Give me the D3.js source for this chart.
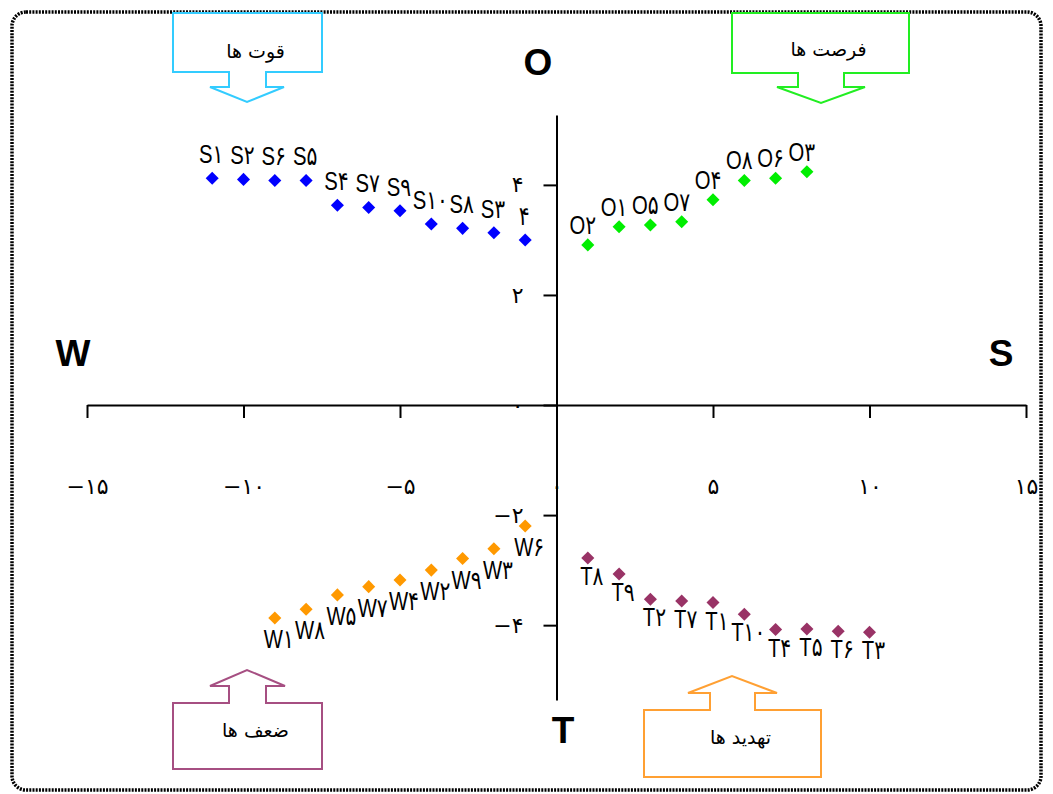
<!DOCTYPE html>
<html lang="fa">
<head>
<meta charset="utf-8" />
<title>SWOT</title>
<style>
  body { margin:0; background:#fff; }
  svg  { display:block; }
  .axis path, .axis line { stroke:#000; stroke-width:2px; }
  .axis text  { font-family:"DejaVu Sans",sans-serif; font-size:22px; fill:#000; }
  .ptLabel    { font-family:"Liberation Sans",Arial,"DejaVu Sans",sans-serif; font-size:26px; fill:#000; }
  .quad       { font-family:"Liberation Sans",Arial,sans-serif; font-size:37px; font-weight:bold; fill:#000; }
  .boxText    { font-family:"DejaVu Sans",sans-serif; font-size:19px; fill:#000; }
</style>
</head>
<body>
<svg id="chart" width="1053" height="794"></svg>

<script src="https://cdn.jsdelivr.net/npm/d3@7"></script>
<script>
/* ---------- DATA ---------- */
const sX = [-11, -10, -9, -8, -7, -6, -5, -4, -3, -2, -1];
const sY = [4.12, 4.10, 4.08, 4.08, 3.63, 3.59, 3.53, 3.29, 3.21, 3.13, 3.00];
const sLabels = ["S۱", "S۲", "S۶", "S۵", "S۴", "S۷", "S۹", "S۱۰", "S۸", "S۳", "۴"];

const oX = [1, 2, 3, 4, 5, 6, 7, 8];
const oY = [2.91, 3.24, 3.27, 3.33, 3.73, 4.08, 4.12, 4.24];
const oLabels = ["O۲", "O۱", "O۵", "O۷", "O۴", "O۸", "O۶", "O۳"];

const wX = [-9, -8, -7, -6, -5, -4, -3, -2, -1];
const wY = [-3.87, -3.71, -3.45, -3.30, -3.18, -3.00, -2.79, -2.61, -2.20];
const wLabels = ["W۱", "W۸", "W۵", "W۷", "W۴", "W۲", "W۹", "W۳", "W۶"];

const tX = [1, 2, 3, 4, 5, 6, 7, 8, 9, 10];
const tY = [-2.78, -3.07, -3.53, -3.56, -3.59, -3.80, -4.08, -4.07, -4.11, -4.13];
const tLabels = ["T۸", "T۹", "T۲", "T۷", "T۱", "T۱۰", "T۴", "T۵", "T۶", "T۳"];

const xTicks = [-15, -10, -5, 0, 5, 10, 15];
const yTicks = [-4, -2, 0, 2, 4];

/* ---------- LAYOUT ---------- */
const W = 1053, H = 794;
const svg = d3.select("#chart");

const x = d3.scaleLinear().domain([-15, 15]).range([87, 1026]);
const y = d3.scaleLinear().domain([-5.36, 5.27]).range([700, 115]);

const fa = v => d3.format("d")(v).replace(/-/g, "\u2212").replace(/\d/g, c => "۰۱۲۳۴۵۶۷۸۹"[c]);

// chart-area frame
svg.append("rect")
    .attr("x", 12).attr("y", 12).attr("width", W - 24).attr("height", H - 16)
    .attr("rx", 14).attr("fill", "none")
    .attr("stroke", "#000").attr("stroke-width", 3.5).attr("stroke-dasharray", "2 1.2");

/* ---------- AXES ---------- */
svg.append("g").attr("class", "axis")
    .attr("transform", `translate(0,${y(0)})`)
    .call(d3.axisBottom(x).tickValues(xTicks).tickSize(13).tickSizeOuter(0).tickPadding(60).tickFormat(fa));

svg.append("g").attr("class", "axis")
    .attr("transform", `translate(${x(0)},0)`)
    .call(d3.axisLeft(y).tickValues(yTicks).tickSize(13).tickSizeOuter(0).tickPadding(20).tickFormat(fa));

/* ---------- SERIES ---------- */
// dx/dy: label offset from its marker (labels sit above S/O, below W/T)
const series = [
  { xs: sX, ys: sY, labels: sLabels, color: "#0000ff", dx: -1, dy: -15 },
  { xs: oX, ys: oY, labels: oLabels, color: "#00ee00", dx: -5, dy: -11 },
  { xs: wX, ys: wY, labels: wLabels, color: "#ff9900", dx: 4,  dy: 30 },
  { xs: tX, ys: tY, labels: tLabels, color: "#993366", dx: 4,  dy: 27 }
];

const diamond = d3.symbol(d3.symbolSquare, 85);

series.forEach(s => {
  const pts = s.xs.map((v, i) => ({ x: v, y: s.ys[i], label: s.labels[i] }));
  const g = svg.append("g");

  g.selectAll("path")
    .data(pts)
    .join("path")
      .attr("d", diamond)
      .attr("transform", d => `translate(${x(d.x)},${y(d.y)}) rotate(45)`)
      .attr("fill", s.color);

  // tall, narrow label glyphs like the original
  g.selectAll("text")
    .data(pts)
    .join("text")
      .attr("class", "ptLabel")
      .attr("transform", d => `translate(${x(d.x) + s.dx},${y(d.y) + s.dy}) scale(0.78,1)`)
      .attr("text-anchor", "middle")
      .text(d => d.label);
});

/* ---------- QUADRANT LETTERS ---------- */
const quads = [
  { t: "O", x: 538, y: 75 },
  { t: "W", x: 73,  y: 366 },
  { t: "S", x: 1001, y: 366 },
  { t: "T", x: 563, y: 743 }
];
svg.selectAll(".quad")
  .data(quads)
  .join("text")
    .attr("class", "quad")
    .attr("x", d => d.x).attr("y", d => d.y)
    .attr("text-anchor", "middle")
    .text(d => d.t);

/* ---------- CALLOUT ARROWS ---------- */
// box L/R/T/B, stem sl/sr, wing line wy with wl/wr, tip (tx,ty)
const callouts = [
  { text: "قوت ها",   color: "#33ccff", L: 173, R: 322, T: 13,  B: 72,  sl: 229, sr: 266, wy: 87,  wl: 210, wr: 284, tx: 247, ty: 102, cy: 52 },
  { text: "فرصت ها",  color: "#22ee22", L: 732, R: 909, T: 13,  B: 73,  sl: 798, sr: 844, wy: 87,  wl: 777, wr: 865, tx: 821, ty: 103, cy: 50 },
  { text: "ضعف ها",   color: "#a64f82", L: 173, R: 322, T: 703, B: 769, sl: 229, sr: 266, wy: 686, wl: 210, wr: 285, tx: 247, ty: 670, cy: 731 },
  { text: "تهدید ها", color: "#ffa033", L: 644, R: 821, T: 710, B: 777, sl: 710, sr: 755, wy: 693, wl: 688, wr: 777, tx: 732, ty: 676, cy: 738 }
];

callouts.forEach(c => {
  const down = c.ty > c.B;
  const edge = down ? c.B : c.T;   // side the arrow leaves from
  const far  = down ? c.T : c.B;
  const pts = [
    [c.L, far], [c.R, far], [c.R, edge], [c.sr, edge], [c.sr, c.wy], [c.wr, c.wy],
    [c.tx, c.ty], [c.wl, c.wy], [c.sl, c.wy], [c.sl, edge], [c.L, edge]
  ];
  svg.append("path")
    .attr("d", d3.line()(pts) + "Z")
    .attr("fill", "#fff")
    .attr("stroke", c.color)
    .attr("stroke-width", 2);
  svg.append("text")
    .attr("class", "boxText")
    .attr("x", (c.L + c.R) / 2 + 8)
    .attr("y", c.cy)
    .attr("text-anchor", "middle")
    .attr("dominant-baseline", "middle")
    .text(c.text);
});
</script>
</body>
</html>
